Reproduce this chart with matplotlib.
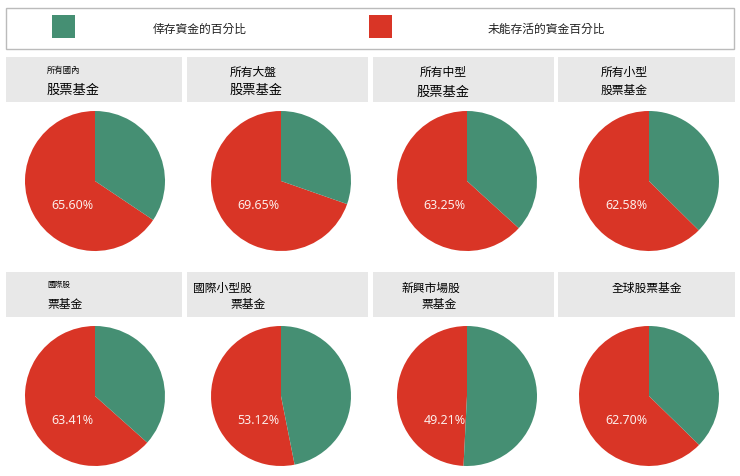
import matplotlib.pyplot as plt
from matplotlib.patches import Rectangle

plt.rcParams['font.family'] = ['Noto Sans CJK TC', 'DejaVu Sans']

######### data #########
legend_labels = ['倖存資金的百分比', '未能存活的資金百分比']
small_titles = ['所有國內', '所有大盤', '所有中型', '所有小型',
                '國際股', '國際小型股', '新興市場股', '全球股票基金']
big_titles = ['股票基金', '股票基金', '股票基金', '股票基金',
              '票基金', '票基金', '票基金', '']
failed_pct = [65.60, 69.65, 63.25, 62.58, 63.41, 53.12, 49.21, 62.70]

######### style #########
W, H = 740, 477
green = '#458F73'
red = '#D93526'
header_gray = '#E8E8E8'
col_boxes = [(6, 182), (187, 368), (373, 554), (558, 735)]
pie_cx = [95, 281, 467, 649]
pie_cy = [182, 397]
header_y = [(58, 103), (273, 318)]
pie_r = 70

fig = plt.figure(figsize=(W / 100, H / 100), dpi=100)
bg = fig.add_axes([0, 0, 1, 1])
bg.set_xlim(0, W)
bg.set_ylim(H, 0)
bg.axis('off')

# legend box
bg.add_patch(Rectangle((6, 9), 728, 41, facecolor='white', edgecolor='#BBBBBB', lw=1))
bg.add_patch(Rectangle((52, 16), 23, 23, facecolor=green, edgecolor='none'))
bg.text(200, 29, legend_labels[0], ha='center', va='center', fontsize=8.5, color='#222222')
bg.add_patch(Rectangle((369, 16), 23, 23, facecolor=red, edgecolor='none'))
bg.text(546, 29, legend_labels[1], ha='center', va='center', fontsize=8.5, color='#222222')

# header boxes
for row in range(2):
    y0, y1 = header_y[row]
    for col in range(4):
        x0, x1 = col_boxes[col]
        bg.add_patch(Rectangle((x0, y0), x1 - x0, y1 - y0, facecolor=header_gray, edgecolor='none'))

# header texts (positions follow the reference layout)
bg.text(47, 70, small_titles[0], ha='left', va='center', fontsize=6)
bg.text(47, 90, big_titles[0], ha='left', va='center', fontsize=9.5)
bg.text(230, 72, small_titles[1], ha='left', va='center', fontsize=8.5)
bg.text(230, 90, big_titles[1], ha='left', va='center', fontsize=9.5)
bg.text(420, 72, small_titles[2], ha='left', va='center', fontsize=8.5)
bg.text(417, 92, big_titles[2], ha='left', va='center', fontsize=9.5)
bg.text(601, 72, small_titles[3], ha='left', va='center', fontsize=8.5)
bg.text(601, 90, big_titles[3], ha='left', va='center', fontsize=8.5)
bg.text(47, 285, small_titles[4], ha='left', va='center', fontsize=5.5)
bg.text(47, 305, big_titles[4], ha='left', va='center', fontsize=8.5)
bg.text(193, 288, small_titles[5], ha='left', va='center', fontsize=8.5)
bg.text(230, 305, big_titles[5], ha='left', va='center', fontsize=8.5)
bg.text(401, 288, small_titles[6], ha='left', va='center', fontsize=8.5)
bg.text(421, 305, big_titles[6], ha='left', va='center', fontsize=8.5)
bg.text(612, 288, small_titles[7], ha='left', va='center', fontsize=8.5)

# pies
for i, pct in enumerate(failed_pct):
    cx = pie_cx[i % 4]
    cy = pie_cy[i // 4]
    ax = fig.add_axes([(cx - pie_r) / W, 1 - (cy + pie_r) / H, 2 * pie_r / W, 2 * pie_r / H])
    ax.pie([pct, 100 - pct], colors=[red, green], startangle=90, counterclock=True,
           radius=1, wedgeprops=dict(linewidth=0))
    ax.set_xlim(-1, 1)
    ax.set_ylim(-1, 1)
    ax.set_aspect('equal')
    ax.axis('off')
    ax.text(-0.32, -0.33, f'{pct:.2f}%', ha='center', va='center', fontsize=9,
            color='#FCEDEA', family=['Noto Sans', 'DejaVu Sans'])

fig.savefig('out.png', dpi=100)
